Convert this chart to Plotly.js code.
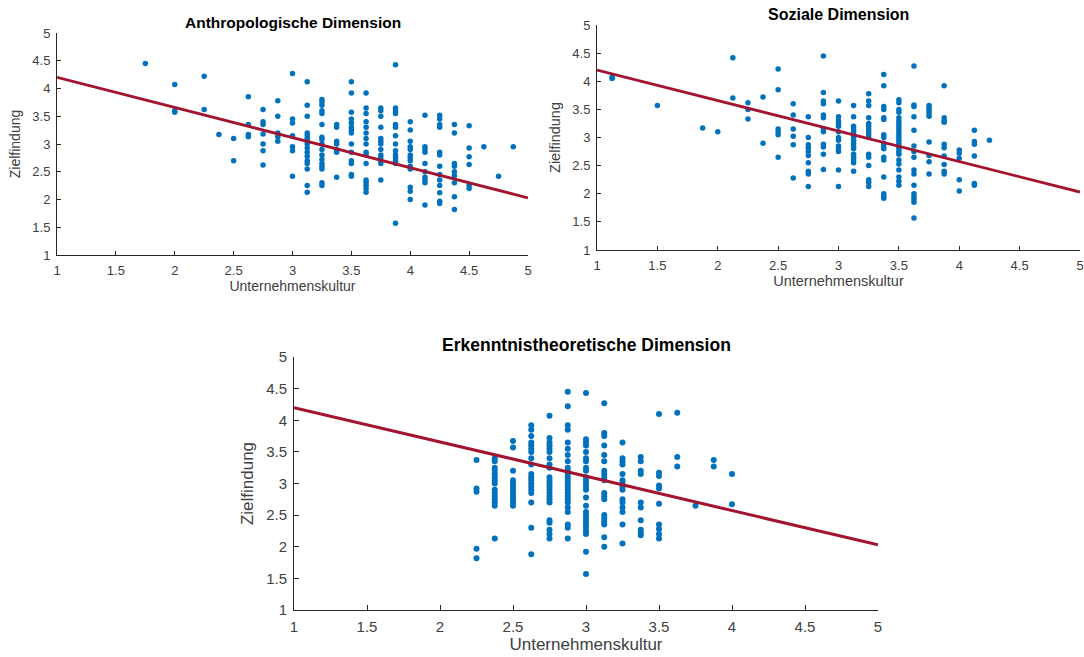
<!DOCTYPE html>
<html><head><meta charset="utf-8">
<script src="https://cdn.plot.ly/plotly-3.0.1.min.js"></script>
<style>html,body{margin:0;padding:0;background:#fff}#chart{width:1084px;height:657px}</style>
</head><body><div id="chart"></div>
<script>
// ---- Data: Anthropologische Dimension (x column value -> list of y values)
const anthroCols = [
  [1.75, [4.45]],
  [2.0, [4.07, 3.6, 3.57]],
  [2.25, [4.22, 3.62]],
  [2.375, [3.17]],
  [2.5, [3.1, 2.7]],
  [2.625, [3.85, 3.35, 3.17, 3.13]],
  [2.75, [3.62, 3.4, 3.35, 3.18, 3.0, 2.88, 2.62]],
  [2.875, [3.78, 3.5, 3.2, 3.13, 3.05]],
  [3.0, [4.27, 3.45, 3.38, 3.15, 2.95, 2.88, 2.42]],
  [3.125, [4.12, 3.7, 3.5, 3.2, 3.15, 3.1, 3.05, 3.0, 2.93, 2.85, 2.78, 2.7, 2.65, 2.55, 2.25, 2.13]],
  [3.25, [3.8, 3.75, 3.7, 3.6, 3.55, 3.35, 3.12, 3.08, 3.0, 2.9, 2.8, 2.72, 2.65, 2.6, 2.55, 2.3, 2.25]],
  [3.375, [3.35, 3.3, 3.05, 3.0, 2.9, 2.85, 2.4]],
  [3.5, [4.12, 3.92, 3.57, 3.45, 3.38, 3.3, 3.25, 3.2, 3.0, 2.85, 2.7, 2.65, 2.45, 2.42]],
  [3.625, [3.92, 3.65, 3.55, 3.4, 3.3, 3.2, 3.1, 3.0, 2.85, 2.8, 2.65, 2.35, 2.3, 2.25, 2.2, 2.13]],
  [3.75, [3.65, 3.6, 3.5, 3.3, 3.1, 3.05, 3.0, 2.9, 2.8, 2.75, 2.7, 2.65, 2.35]],
  [3.875, [4.43, 3.65, 3.6, 3.55, 3.35, 3.3, 3.15, 3.0, 2.88, 2.8, 2.75, 2.7, 2.65, 1.57]],
  [4.0, [3.4, 3.25, 3.05, 2.95, 2.9, 2.8, 2.75, 2.7, 2.6, 2.55, 2.22, 2.15, 2.0]],
  [4.125, [3.52, 2.95, 2.9, 2.85, 2.65, 2.5, 2.4, 2.35, 2.3, 1.9]],
  [4.25, [3.52, 3.45, 3.35, 3.3, 2.85, 2.8, 2.6, 2.45, 2.35, 2.25, 2.12, 1.97, 1.93]],
  [4.375, [3.35, 3.2, 2.65, 2.6, 2.5, 2.43, 2.3, 2.05, 1.82]],
  [4.5, [3.33, 2.93, 2.77, 2.63, 2.25, 2.2]],
  [4.625, [2.95]],
  [4.75, [2.42]],
  [4.875, [2.95]]
];
// ---- Data: Soziale Dimension
const sozialCols = [
  [1.125, [4.07, 4.05]],
  [1.5, [3.57]],
  [1.875, [3.17]],
  [2.0, [3.1]],
  [2.125, [4.42, 3.7]],
  [2.25, [3.62, 3.5, 3.33]],
  [2.375, [3.72, 2.9]],
  [2.5, [4.22, 3.85, 3.15, 3.1, 3.05, 2.65]],
  [2.625, [3.6, 3.4, 3.15, 3.02, 2.87, 2.28]],
  [2.75, [3.37, 3.0, 2.87, 2.82, 2.75, 2.68, 2.55, 2.4, 2.35, 2.13]],
  [2.875, [4.45, 3.8, 3.65, 3.6, 3.4, 3.35, 3.15, 3.1, 2.88, 2.83, 2.7, 2.43]],
  [3.0, [3.65, 3.37, 3.3, 3.25, 3.2, 3.1, 3.0, 2.95, 2.85, 2.8, 2.75, 2.42, 2.13]],
  [3.125, [3.57, 3.37, 3.2, 3.15, 3.1, 3.05, 3.0, 2.95, 2.9, 2.85, 2.8, 2.7, 2.65, 2.6, 2.55, 2.4]],
  [3.25, [3.78, 3.65, 3.57, 3.35, 3.25, 3.2, 3.15, 3.1, 3.05, 3.0, 2.7, 2.65, 2.5, 2.25, 2.2, 2.13]],
  [3.375, [4.12, 3.92, 3.55, 3.5, 3.35, 3.32, 3.05, 3.0, 2.9, 2.85, 2.8, 2.65, 2.6, 2.3, 2.0, 1.95, 1.92]],
  [3.5, [3.67, 3.62, 3.5, 3.45, 3.35, 3.3, 3.25, 3.2, 3.15, 3.1, 3.05, 3.0, 2.95, 2.9, 2.85, 2.8, 2.75, 2.7, 2.6, 2.53, 2.42, 2.3, 2.22, 2.15]],
  [3.625, [4.27, 3.58, 3.55, 3.37, 3.13, 2.85, 2.75, 2.65, 2.42, 2.35, 2.15, 2.0, 1.95, 1.9, 1.85, 1.57]],
  [3.75, [3.57, 3.52, 3.48, 3.43, 3.38, 2.92, 2.68, 2.57, 2.35]],
  [3.875, [3.92, 3.35, 3.3, 3.27, 2.88, 2.82, 2.67, 2.52, 2.4, 2.35]],
  [4.0, [2.78, 2.72, 2.63, 2.25, 2.05]],
  [4.125, [3.13, 2.93, 2.88, 2.67, 2.18, 2.15]],
  [4.25, [2.95]]
];
// ---- Data: Erkenntnistheoretische Dimension
const erkenntCols = [
  [2.25, [3.37, 2.92, 2.87, 1.97, 1.82]],
  [2.375, [3.4, 3.35, 3.25, 3.2, 3.15, 3.1, 3.05, 3.0, 2.9, 2.85, 2.8, 2.75, 2.7, 2.65, 2.13]],
  [2.5, [3.67, 3.57, 3.2, 3.05, 3.0, 2.95, 2.9, 2.85, 2.8, 2.75, 2.7, 2.65]],
  [2.625, [3.92, 3.85, 3.75, 3.65, 3.6, 3.55, 3.5, 3.4, 3.3, 3.15, 3.1, 3.05, 3.0, 2.95, 2.9, 2.85, 2.7, 2.3, 1.88]],
  [2.75, [4.07, 3.72, 3.65, 3.6, 3.55, 3.5, 3.4, 3.3, 3.25, 3.1, 3.05, 3.0, 2.95, 2.9, 2.85, 2.8, 2.75, 2.7, 2.42, 2.38, 2.27, 2.2, 2.13]],
  [2.875, [4.45, 4.22, 3.92, 3.85, 3.65, 3.55, 3.45, 3.35, 3.25, 3.2, 3.15, 3.1, 3.05, 3.0, 2.95, 2.9, 2.85, 2.8, 2.75, 2.7, 2.62, 2.55, 2.35, 2.3, 2.13]],
  [3.0, [4.43, 3.7, 3.65, 3.6, 3.5, 3.4, 3.35, 3.25, 3.2, 3.1, 3.05, 3.0, 2.95, 2.9, 2.78, 2.65, 2.55, 2.5, 2.45, 2.4, 2.35, 2.3, 2.25, 2.2, 1.92, 1.57]],
  [3.125, [4.27, 3.8, 3.75, 3.6, 3.45, 3.35, 3.2, 3.15, 3.1, 3.05, 2.85, 2.8, 2.75, 2.5, 2.45, 2.4, 2.35, 2.15, 2.0]],
  [3.25, [3.65, 3.4, 3.35, 3.3, 3.15, 3.05, 3.0, 2.95, 2.9, 2.75, 2.7, 2.62, 2.55, 2.35, 2.05]],
  [3.375, [3.42, 3.35, 3.2, 3.15, 2.7, 2.62, 2.42, 2.27, 2.22, 2.18]],
  [3.5, [4.1, 3.17, 3.12, 2.97, 2.92, 2.68, 2.35, 2.28, 2.2, 2.13]],
  [3.625, [4.12, 3.42, 3.27]],
  [3.75, [2.65]],
  [3.875, [3.37, 3.27]],
  [4.0, [3.15, 2.67]]
];
// Regression line endpoints (same in all three panels)
const fitX = [1, 5];
const fitY = [4.2, 2.03];
const titles = ["Anthropologische Dimension", "Soziale Dimension", "Erkenntnistheoretische Dimension"];
const tickVals = [1, 1.5, 2, 2.5, 3, 3.5, 4, 4.5, 5];
const tickText = ["1", "1.5", "2", "2.5", "3", "3.5", "4", "4.5", "5"];

function flatten(cols) {
  const x = [], y = [];
  cols.forEach(c => c[1].forEach(v => { x.push(c[0]); y.push(v); }));
  return {x, y};
}

const W = 1084, H = 657;
// pixel boxes [left, right, top, bottom]
const boxes = [[57, 528, 33, 255], [597, 1080, 25, 250], [294, 878, 357, 610]];
// per-panel text sizes [title, tick, axis title]
const sizes = [[15.5, 13, 14], [16, 13, 14.5], [17.5, 15, 17]];
const datasets = [anthroCols, sozialCols, erkenntCols];
const BLUE = '#0072BD', RED = '#A2142F';

const traces = [];
const layout = {
  width: W, height: H, margin: {l: 0, r: 0, t: 0, b: 0},
  paper_bgcolor: '#fff', plot_bgcolor: 'rgba(0,0,0,0)', showlegend: false,
  font: {family: 'Liberation Sans, Arial, sans-serif', color: '#404040'},
  annotations: []
};
datasets.forEach((cols, i) => {
  const s = i === 0 ? '' : String(i + 1);
  const d = flatten(cols);
  const z = sizes[i];
  traces.push({type: 'scatter', mode: 'markers', x: d.x, y: d.y, xaxis: 'x' + s, yaxis: 'y' + s,
    marker: {color: BLUE, size: i === 2 ? 6 : 5.5}, cliponaxis: false});
  traces.push({type: 'scatter', mode: 'lines', x: fitX, y: fitY, xaxis: 'x' + s, yaxis: 'y' + s,
    line: {color: RED, width: i === 2 ? 3 : 2.8}});
  const b = boxes[i];
  const common = {range: [1, 5], tickvals: tickVals, ticktext: tickText, ticks: 'inside', ticklen: i === 2 ? 5 : 4,
    tickcolor: '#262626', showline: true, linecolor: '#262626', linewidth: 1, showgrid: false, zeroline: false,
    tickfont: {size: z[1], color: '#404040'}};
  layout['xaxis' + s] = Object.assign({}, common, {domain: [b[0] / W, b[1] / W], anchor: 'y' + s,
    ticklabelstandoff: 3,
    title: {text: 'Unternehmenskultur', font: {size: z[2], color: '#404040'}, standoff: 4}});
  layout['yaxis' + s] = Object.assign({}, common, {domain: [1 - b[3] / H, 1 - b[2] / H], anchor: 'x' + s,
    ticklabelstandoff: 3,
    title: {text: 'Zielfindung', font: {size: z[2], color: '#404040'}, standoff: 8}});
  layout.annotations.push({text: '<b>' + titles[i] + '</b>', xref: 'paper', yref: 'paper',
    x: (b[0] + b[1]) / 2 / W, y: 1 - (b[2] - (i === 2 ? 12 : 11)) / H, xanchor: 'center', yanchor: 'middle', showarrow: false,
    font: {size: z[0], color: '#000'}});
});
Plotly.newPlot('chart', traces, layout, {staticPlot: true, displayModeBar: false});
</script>
</body></html>
